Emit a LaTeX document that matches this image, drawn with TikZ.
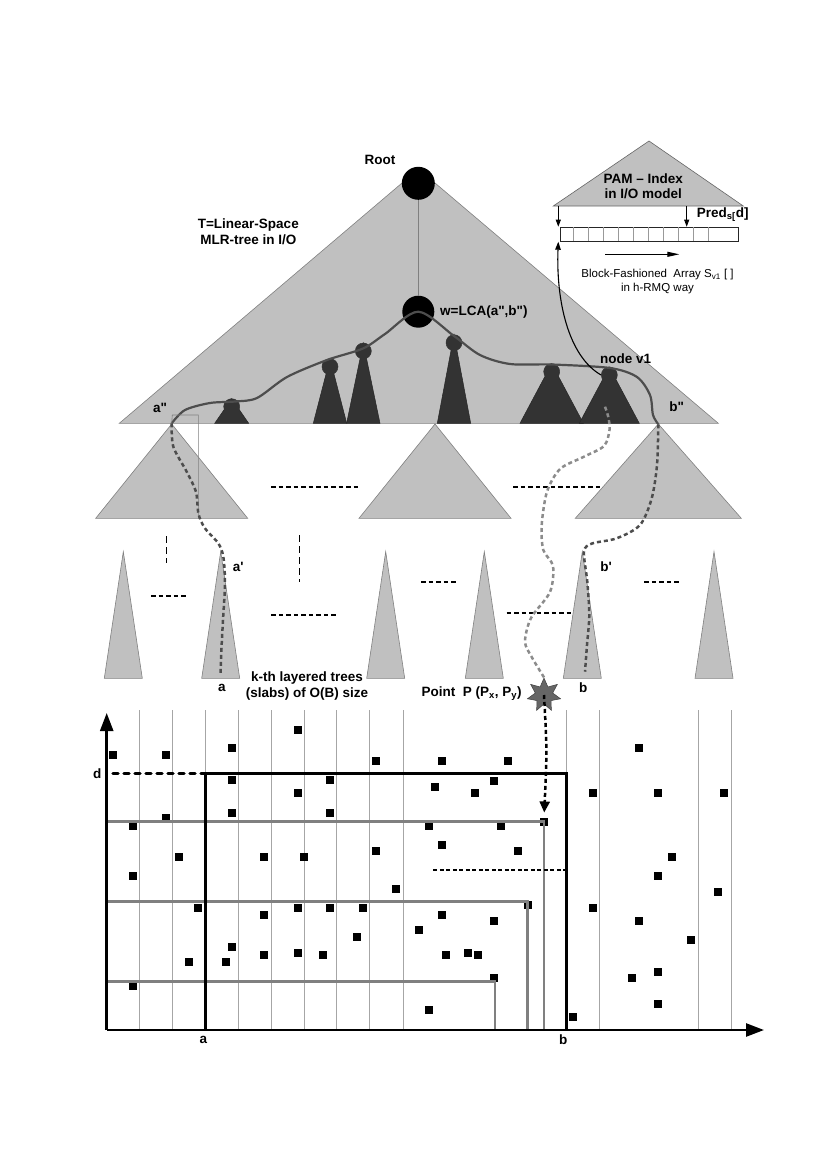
\documentclass[tikz,border=0pt]{standalone}
\usepackage{fontspec}
\setmainfont{Liberation Sans}
\usepackage{xcolor}
\usepackage{tikz}
\usetikzlibrary{arrows.meta}
\usetikzlibrary{shapes.geometric}
\definecolor{lgray}{HTML}{C0C0C0}
\definecolor{dgray}{HTML}{333333}
\definecolor{mgray}{HTML}{808080}
\definecolor{pgray}{HTML}{4D4D4D}

\begin{document}
\begin{tikzpicture}[x=1pt,y=-1pt]

\useasboundingbox (0,0) rectangle (830,1175);

% Define block styles
\tikzstyle{lightfill} = [fill=lgray, draw=mgray, line width=0.6pt]
\tikzstyle{darkfill} = [fill=dgray, draw=black!85, line width=0.5pt]
\tikzstyle{bignode} = [circle, fill=black, inner sep=0pt, minimum size=33pt]
\tikzstyle{smallnode} = [circle, fill=dgray, draw=black!80, line width=0.5pt,
  inner sep=0pt, minimum size=16pt]
\tikzstyle{texto} = [font=\fontsize{13.5}{16}\selectfont\bfseries, inner sep=0pt,
  align=center]
\tikzstyle{textn} = [font=\fontsize{11.5}{14}\selectfont, inner sep=0pt, align=center]
\tikzstyle{pathline} = [draw=pgray, line width=2.2pt]
\tikzstyle{linepart} = [draw=pgray, line width=2.5pt, dash pattern=on 4pt off 3pt]
\tikzstyle{linelight} = [linepart, draw=black!45]
\tikzstyle{dashbar} = [draw, line width=2pt, dash pattern=on 4.5pt off 3pt]
\tikzstyle{vdash} = [draw, line width=1pt, dash pattern=on 7pt off 4pt]
\tikzstyle{dot} = [rectangle, fill=black, inner sep=0pt, minimum size=8pt]
\tikzstyle{slabline} = [draw=black!35, line width=0.7pt]
\tikzstyle{rangeline} = [draw=mgray, line width=2.8pt]
\tikzstyle{axisline} = [draw, line width=2.5pt, -{Triangle[length=18pt,width=13pt]}]
\tikzstyle{smallarrow} = [draw, line width=0.8pt, -{Triangle[length=7pt,width=5pt]}]

% sub-tree hanging from the search path
\newcommand{\subtree}[4]{%
  \path[darkfill] (#2,#3-8) -- (#2+#4,423.3) -- (#2-#4,423.3) -- cycle;
  \node (#1) [smallnode] at (#2,#3) {};}

% second level tree
\newcommand{\midtree}[3]{%
  \path[lightfill] (#2,424) coordinate (#1) -- (#2+#3,518.3) -- (#2-#3,518.3) -- cycle;}

% k-th layered tree (slab)
\newcommand{\slab}[2]{%
  \path[lightfill] (#2,551.7) coordinate (#1) -- (#2+19,678.3) -- (#2-19,678.3) -- cycle;}

% Draw the main tree
\path[lightfill] (418.5,169) coordinate (top) -- (718.3,423.3) coordinate (tr)
  -- (119.3,423.3) coordinate (tl) -- cycle;
\node (root) [bignode] at (418.3,183.3) {};
\node (w) [bignode, minimum size=32pt] at (418.3,311.7) {};
\draw[mgray, line width=0.8pt] (root) -- (w);

\subtree{c1}{231.7}{406.7}{17}
\subtree{c2}{330}{366.7}{16.7}
\subtree{c3}{363.3}{351}{16.7}
\subtree{c4}{454}{342.7}{16.7}
\subtree{c5}{551.7}{371.7}{31.7}
\subtree{v1}{609.3}{375}{30}

\coordinate (app) at (171.7,423.3);
\coordinate (bpp) at (658.3,424.3);

\path[pathline] plot[smooth] coordinates {(app) (185,410) (210,403) (235,401.5)
  (257,398) (287,377) (327,360) (363,348.5) (385,334) (w.center) (454,336)
  (480,355) (510,364) (552,364.5) (610,368) (637,377) (650,395) (653,415) (bpp)};

% Draw second level trees
\midtree{m1}{171.7}{76}
\midtree{m2}{435}{76}
\midtree{m3}{658.3}{83}
\draw[mgray, line width=0.6pt] (app) -- (172.3,415) -- (198.3,415) -- (198.3,518.3);
\path[dashbar] (271,487.3) -- (359,487.3);
\path[dashbar] (513.3,486.7) -- (601.7,486.7);

% Draw slabs
\slab{s1}{123.3}
\slab{s2}{220.7}
\slab{s3}{385.7}
\slab{s4}{484.3}
\slab{s5}{582.3}
\slab{s6}{714}
\path[vdash] (166,536) -- (166,563.3);
\path[vdash] (299,535) -- (299,581.7);
\path[dashbar] (151,595.7) -- (186.7,595.7);
\path[dashbar] (271.4,615) -- (337,615);
\path[dashbar] (421,581.7) -- (456.7,581.7);
\path[dashbar] (506.7,613.3) -- (572.7,613.3);
\path[dashbar] (644.3,581.7) -- (680,581.7);

\node (star) [star, star points=7, star point ratio=1.9, minimum size=34pt,
  inner sep=0pt, fill=black!60, draw=black!75, line width=0.5pt] at (544,695) {};

% Search paths down to the slabs
\coordinate (ea) at (220.5,675);
\coordinate (eb) at (585,671.7);
\coordinate (ls) at (605,406.7);
\path[linepart] plot[smooth] coordinates {(app) (173.3,446.7) (186.7,471.7)
  (196,492) (198.5,514) (205,528.3) (218.3,543.3) (223.3,556.7) (225,583.3)
  (223,620) (221.4,650) (ea)};
\path[linepart] plot[smooth] coordinates {(bpp) (657,465) (651.7,498.3) (640,525)
  (616.7,538.3) (592,543.5) (584,551.7) (587.3,581.7) (589.3,615) (587,645) (eb)};
\path[linelight] plot[smooth] coordinates {(ls) (608.3,417) (609.5,430) (604,446)
  (583.3,457) (560,469) (547,491.7) (541.7,525) (543.3,550) (553,566) (550,592)
  (531,618) (525,641.7) (531.7,657) (star.north)};

% Draw PAM index
\path[lightfill, draw=black!60] (649,141) coordinate (pam) -- (743.3,206)
  -- (553.3,206) -- cycle;
\coordinate (pamL) at (558.3,206);
\coordinate (pamR) at (686.7,206);
\node (arr) [draw=black!85, line width=0.7pt, minimum width=177.7pt,
  minimum height=14.3pt, inner sep=0pt, anchor=north west] at (560,226.7) {};
\foreach \i in {0,...,9}
  \draw[black!40, line width=0.6pt] (573.3+15*\i,227.2) -- (573.3+15*\i,240.5);
\path[smallarrow] (pamL) -- (pamL |- arr.north);
\path[smallarrow] (pamR) -- (pamR |- arr.north);
\coordinate (sa) at (605,254.3);
\coordinate (sb) at (679.3,254.3);
\path[draw, line width=1pt, -{Triangle[length=12pt,width=5pt]}] (sa) -- (sb);
\draw[line width=1.1pt, -{Triangle[length=8pt,width=5.5pt]}] (v1.west)
  .. controls (568,356) and (556,300) .. (pamL |- arr.south);

% Labels
\node (lroot) [texto] at (380,160) {Root};
\node (ltree) [texto] at (248.3,231.3) {T=Linear-Space\\MLR-tree in I/O};
\node (lw) [texto, anchor=west] at (440,311.7)
  {w=LCA(a\textquotedbl,b\textquotedbl)};
\node (lv1) [texto] at (625.7,359) {node v1};
\node (lapp) [texto] at (160,408.3) {a\textquotedbl};
\node (lbpp) [texto] at (676.7,406.7) {b\textquotedbl};
\node (lpam) [texto, font=\fontsize{13.5}{15}\selectfont\bfseries] at (643.3,185.8)
  {PAM -- Index\\in I/O model};
\node (lpred) [texto, anchor=west] at (696.7,215) {Pred\textsubscript{s[}d]};
\node (lblock) [textn] at (657.5,281.3)
  {Block-Fashioned\ \ Array S\textsubscript{v1} [ ]\\in h-RMQ way};
\node (la1) [texto] at (238.3,566.7) {a\textquotesingle};
\node (lb1) [texto] at (606,566.7) {b\textquotesingle};
\node (la) [texto] at (222,688) {a};
\node (lb) [texto] at (583.3,687.7) {b};
\node (lslab) [texto] at (307,686) {k-th layered trees\\(slabs) of O(B) size};
\node (lpt) [texto] at (471.7,693.3)
  {Point\ \ P (P\textsubscript{x}, P\textsubscript{y})};

% Draw the plane
\coordinate (o) at (106.7,1030);
\foreach \x in {139.3,172.3,205.7,238.3,271.7,304,336.7,369.3,403.3,566.7,599.3,698.3,731}
  \path[slabline] (\x,710) -- (\x,1030);

\foreach \px/\py [count=\i] in {113.3/755,166/755,231.7/748.3,297.7/730,376/761,
  441.7/761,508.3/761,639/748.3,231.7/780,330/780,494.3/780.7,297.7/793.3,
  435/787.3,475.3/793.3,593.3/793.3,658.3/793.3,724.3/793.3,231.7/812.7,
  330/812.7,166/818.3,133.3/826,429/826,501/825.7,179.3/857.3,264.3/857.3,
  304/857.3,376/850.7,441.7/845,517.7/850.7,672.3/857.3,133.3/876,658.3/876,
  396/888.7,718.3/892,198.3/908.3,264.3/915,297.7/908.3,330/908.3,362.7/908.3,
  441.7/915,528.3/905,593.3/908.3,494.3/920.7,639/920.7,419.3/930,356.7/936.7,
  691/940,231.7/946.7,264.3/955.3,297.7/953.3,323.3/955.3,445.7/955.3,
  468.3/953.3,478.3/955.3,189/962.3,225.7/962.3,494.3/977.7,632.3/977.7,
  658.3/972.3,133.3/985.7,658.3/1004.3,429/1010,573.3/1016.7}
  \node (q\i) [dot] at (\px,\py) {};
\node (pp) [dot] at (544,821.7) {};

\path[rangeline] (o |- 0,821.7) -- (544,821.7) -- (544,1030);
\path[rangeline] (o |- 0,901.7) -- (527.7,901.7) -- (527.7,1030);
\path[rangeline] (o |- 0,981.7) -- (495,981.7) -- (495,1030);

\draw[line width=3pt] (205.7,1030) -- (205.7,773.3) -- (566.7,773.3) -- (566.7,1030);
\draw[line width=3.5pt, dash pattern=on 5pt off 6pt, line cap=round]
  (113,773.3) -- (205.7,773.3);
\draw[line width=1.3pt, dash pattern=on 4pt off 2.5pt] (433.3,870) -- (565.7,870);

\draw[line width=2.5pt, dash pattern=on 4pt off 3pt, shorten >=5pt,
  -{Triangle[length=11pt,width=10pt]}] (star.center) .. controls (547,750) .. (pp.north);

\path[axisline] (o) -- (106.7,713);
\path[axisline] (o) -- (764,1030);

\node (ld) [texto] at (97.3,773.3) {d};
\node (lpa) [texto] at (203.3,1040) {a};
\node (lpb) [texto] at (563.3,1040) {b};

\end{tikzpicture}
\end{document}
